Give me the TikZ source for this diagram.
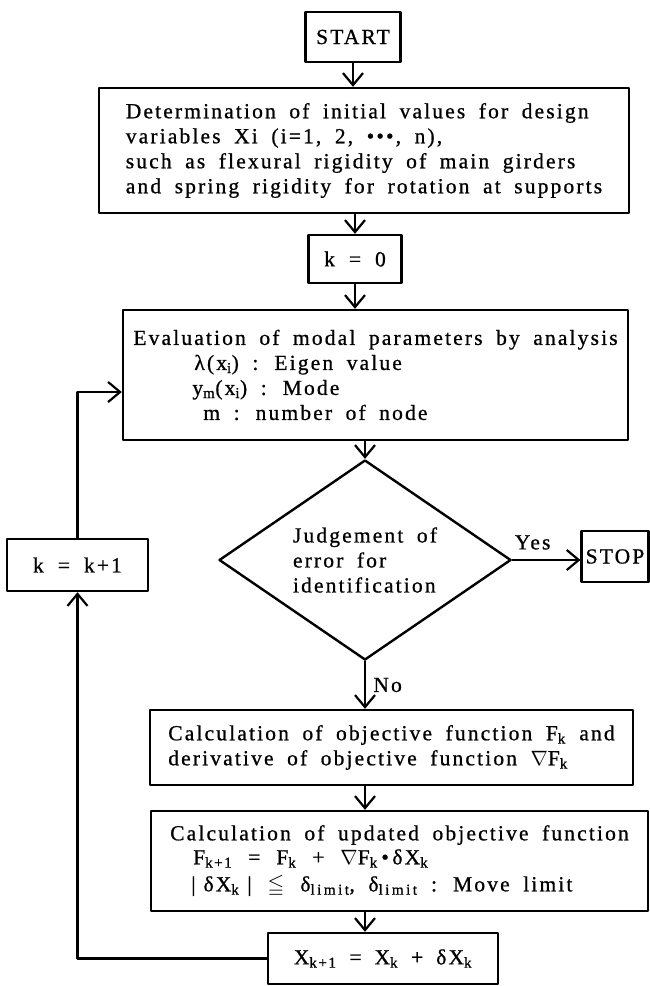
\documentclass[tikz,border=0pt]{standalone}
\usepackage{amssymb}
\usepackage{fontspec}
\setmainfont[LetterSpace=10,WordSpace=1.8,FakeBold=0.8]{Liberation Serif}
\usepackage{tikz}
\usetikzlibrary{shapes.geometric}
\usetikzlibrary{arrows.meta,calc}

\begin{document}
\begin{tikzpicture}[line cap=round,line join=round,x=1pt,y=-1pt,
    font=\fontsize{21.5}{25}\selectfont,
    box/.style={draw,line width=2.4pt,align=left,inner xsep=8pt,inner ysep=0pt},
    judgebox/.style={draw,line width=2.4pt,diamond,shape aspect=1.46,
        minimum width=292pt,minimum height=200pt,align=left,inner sep=1pt},
    arr/.style={line width=2.2pt,-{Straight Barb[length=12pt,width=20pt,line width=2.2pt]}}]

    \useasboundingbox (0,0) rectangle (650,986);

    % boxes of the main column
    \node[box,minimum width=95pt,minimum height=50pt] (start) at (353,37) {START};
    \node[box,minimum width=530pt,minimum height=125pt] (det) at (364,150.5)
        {Determination of initial values for design\\
         variables Xi (i=1, 2, •••, n),\\
         such as flexural rigidity of main girders\\
         and spring rigidity for rotation at supports};
    \node[box,minimum width=93pt,minimum height=48pt] (k0) at (355,259) {k\hspace{14pt}=\hspace{14pt}0};
    \node[box,minimum width=505pt,minimum height=130pt] (eval) at (375.5,375)
        {Evaluation of modal parameters by analysis\\
         \hspace*{61pt}λ(x\textsubscript{i}) : Eigen value\\
         \hspace*{59pt}y\textsubscript{m}(x\textsubscript{i}) : Mode\\
         \hspace*{70pt}m : number of node};
    \node[judgebox] (judge) at (365,560) {Judgement of\\error for\\identification};
    \node[box,inner xsep=4pt,minimum width=66pt,minimum height=51pt] (stop) at (615,556.5) {STOP};
    \node[box,minimum width=483pt,minimum height=75pt] (calc) at (391.5,747.5)
        {Calculation of objective function F\textsubscript{k} and\\
         derivative of objective function $\nabla$F\textsubscript{k}};
    \node[box,minimum width=497pt,minimum height=100pt] (upd) at (399.5,861)
        {Calculation of updated objective function\\[-1pt]
         \hspace*{23pt}F\textsubscript{k+1}\hspace{16pt}=\hspace{16pt}F\textsubscript{k}\hspace{16pt}+\hspace{16pt}$\nabla$F\textsubscript{k}\,•\,δX\textsubscript{k}\\[2pt]
         \hspace*{21pt}|\hspace{8pt}δX\textsubscript{k}\hspace{8pt}|\hspace{16pt}$\leqq$\hspace{16pt}δ\textsubscript{l\,i\,m\,i\,t}, δ\textsubscript{l\,i\,m\,i\,t} : Move limit};
    \node[box,minimum width=230pt,minimum height=51pt] (xnew) at (383,958.5)
        {X\textsubscript{k+1}\hspace{13pt}=\hspace{13pt}X\textsubscript{k}\hspace{13pt}+\hspace{13pt}δX\textsubscript{k}};

    % loop box
    \node[box,minimum width=141pt,minimum height=52pt] (knext) at (77.5,565) {k\hspace{14pt}=\hspace{14pt}k+1};

    % arrows
    \draw[arr] (start.south) -- (start.south |- det.north);
    \draw[arr] (k0.north |- det.south) -- (k0.north);
    \draw[arr] (k0.south) -- (k0.south |- eval.north);
    \draw[arr] (judge.north |- eval.south) -- (judge.north);
    \draw[arr] (judge.east) -- node[pos=0.3,above=6pt] (yes) {Yes} (judge.east -| stop.west);
    \draw[arr] (judge.south) -- node[right=4pt] (no) {No} (judge.south |- calc.north);
    \draw[arr] (judge.south |- calc.south) -- (judge.south |- upd.north);
    \draw[arr] (judge.south |- upd.south) -- (judge.south |- xnew.north);

    % feedback loop
    \coordinate (loopin) at ([yshift=-17pt]eval.west);
    \draw[arr] (xnew.west) -| (knext.south);
    \draw[arr] (knext.north) |- (loopin);

\end{tikzpicture}
\end{document}
